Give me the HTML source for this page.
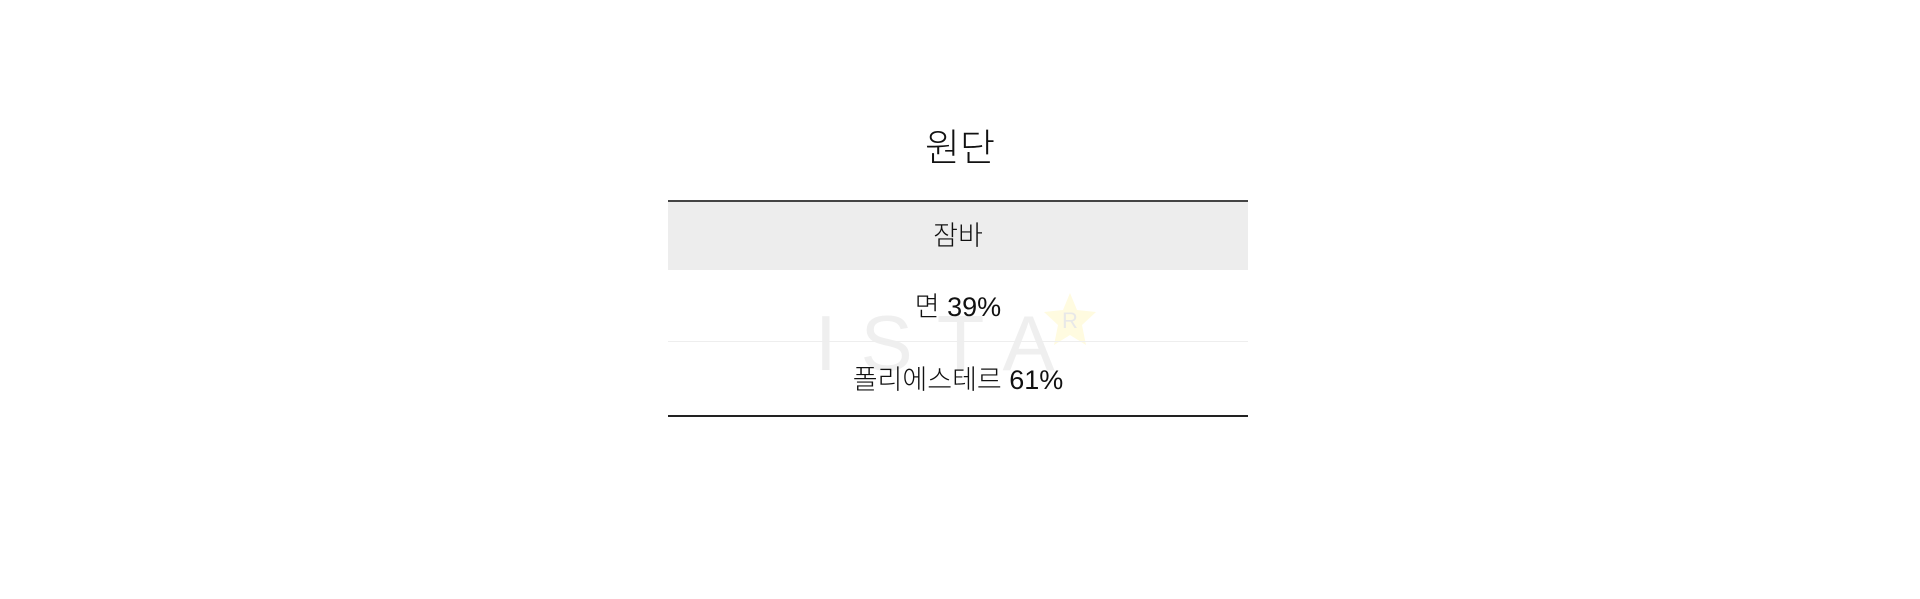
<!DOCTYPE html>
<html><head><meta charset="utf-8"><style>
html,body{margin:0;padding:0;background:#fff;width:1920px;height:599px;overflow:hidden;}
body{font-family:"Liberation Sans","Noto Sans CJK KR",sans-serif;color:#111;position:relative;}
.t{position:absolute;left:0;width:1920px;text-align:center;font-weight:300;}
#title{top:123px;font-size:38px;line-height:52px;}
.ln{position:absolute;left:668px;width:580px;}
.cell{position:absolute;left:668px;width:580px;text-align:center;font-size:27px;font-weight:300;}
.wm{position:absolute;font-family:"Liberation Sans",sans-serif;font-weight:400;color:#efefef;font-size:78px;letter-spacing:24px;}
</style></head><body>
<div class="t" id="title">원단</div>
<div class="wm" style="left:815px;top:298px;">ISTA</div>
<svg style="position:absolute;left:1040px;top:290px" width="60" height="60"><polygon points="30,3 37,20 56,22 42,35 46,55 30,45 14,55 18,35 4,22 23,20" fill="#fffbe0"/><text x="30" y="38" text-anchor="middle" font-size="22" fill="#e8e8e8" font-family="Liberation Sans">R</text></svg>
<div class="ln" style="top:200px;height:2px;background:#444"></div>
<div class="cell" style="top:202px;height:68px;line-height:68px;background:#ededed">잠바</div>
<div class="cell" style="top:271px;height:72px;line-height:72px;">면 39%</div>
<div class="ln" style="top:341px;height:1px;background:#eee"></div>
<div class="cell" style="top:343px;height:74px;line-height:74px;">폴리에스테르 61%</div>
<div class="ln" style="top:415px;height:2px;background:#222"></div>
</body></html>
